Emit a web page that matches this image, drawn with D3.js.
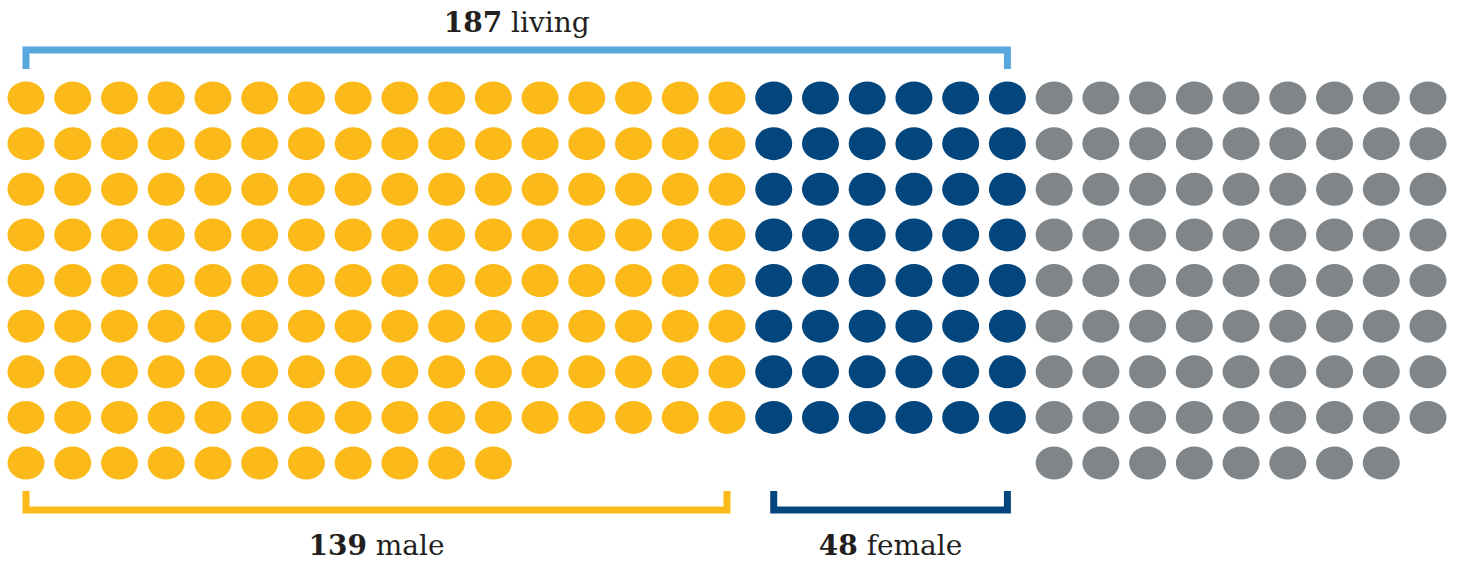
<!DOCTYPE html>
<html>
<head>
    <title>Dot grid - living, male, female</title>
    <script src="https://d3js.org/d3.v7.min.js"></script>
    <style>
        body { margin: 0; background: #fff; }
        .label {
            font-family: "DejaVu Serif", serif;
            font-size: 28px;
            fill: #231f20;
            text-anchor: middle;
        }
        .label .num { font-weight: bold; }
    </style>
</head>
<body>
<div id="chart"></div>
<script>
    // Groups of dots, left to right
    const groupNames = ["male", "female", "other"];
    const groupCounts = [139, 48, 80];
    const groupColumns = [16, 6, 9];
    const groupColors = ["#fbba19", "#02467d", "#7f8588"];

    // Brackets: label number, label word, first group, last group
    const bracketNums = ["187", "139", "48"];
    const bracketWords = ["living", "male", "female"];
    const bracketFrom = [0, 0, 1];
    const bracketTo = [1, 0, 1];
    const bracketSide = ["top", "bottom", "bottom"];
    const bracketColors = ["#59a8dd", "#fbba19", "#02467d"];

    const W = 1461, H = 563;
    const fullRows = 8;
    const totalCols = d3.sum(groupColumns);

    const svg = d3.select("#chart").append("svg")
        .attr("width", W)
        .attr("height", H);

    const x = d3.scaleLinear().domain([0, totalCols - 1]).range([26, 1428]);
    const y = d3.scaleLinear().domain([0, fullRows]).range([98, 463]);

    // build dots: each group fills its column block row by row
    const dots = [];
    const colStart = [];
    let c0 = 0;
    groupNames.forEach((g, gi) => {
        colStart.push(c0);
        const cols = groupColumns[gi];
        for (let i = 0; i < groupCounts[gi]; i++) {
            dots.push({ group: g, gi: gi, col: c0 + (i % cols), row: Math.floor(i / cols) });
        }
        c0 += cols;
    });

    svg.selectAll("ellipse.dot")
        .data(dots)
        .enter()
        .append("ellipse")
        .attr("class", "dot")
        .attr("cx", d => x(d.col))
        .attr("cy", d => y(d.row))
        .attr("rx", 18.5)
        .attr("ry", 16.5)
        .attr("fill", d => groupColors[d.gi]);

    // brackets
    bracketNums.forEach((n, bi) => {
        const x0 = x(colStart[bracketFrom[bi]]);
        const x1 = x(colStart[bracketTo[bi]] + groupColumns[bracketTo[bi]] - 1);
        const top = bracketSide[bi] === "top";
        const barY = top ? 50 : 510;
        const tipY = top ? 69 : 491;
        svg.append("path")
            .attr("d", `M${x0},${tipY}V${barY}H${x1}V${tipY}`)
            .attr("fill", "none")
            .attr("stroke", bracketColors[bi])
            .attr("stroke-width", 7)
            .attr("stroke-linejoin", "miter");

        const t = svg.append("text")
            .attr("class", "label")
            .attr("x", (x0 + x1) / 2)
            .attr("y", top ? 32 : 555);
        t.append("tspan").attr("class", "num").text(n);
        t.append("tspan").text(" " + bracketWords[bi]);
    });
</script>
</body>
</html>
